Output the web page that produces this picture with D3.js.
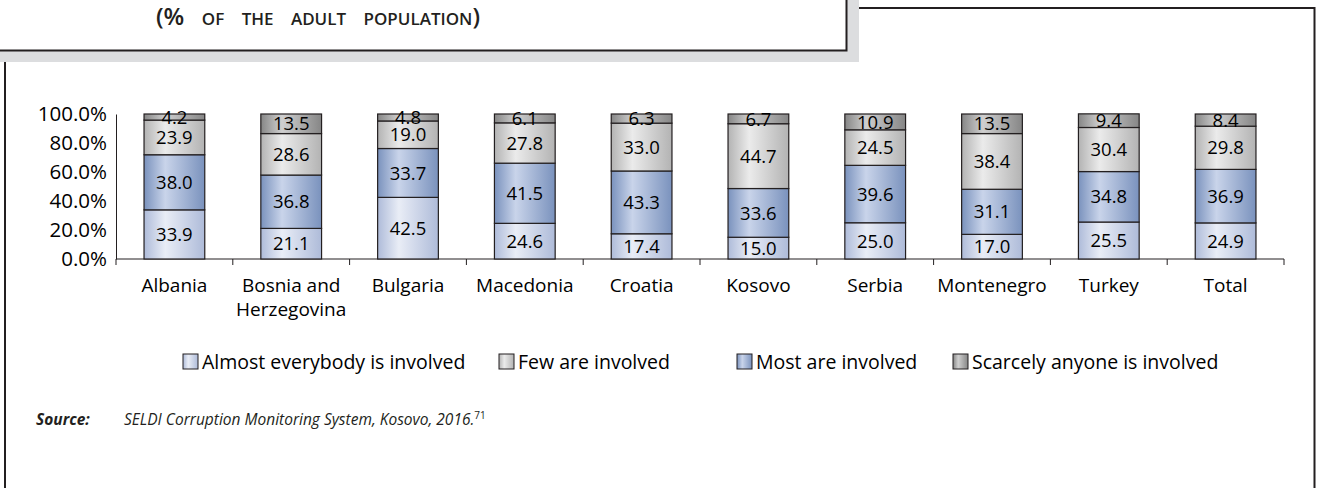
<!DOCTYPE html>
<html lang="en">
<head>
<meta charset="UTF-8">
<title>Corruption involvement</title>
<style>
  body { margin: 0; background: #fff; }
  svg { display: block; font-family: "Open Sans", sans-serif; }
</style>
</head>
<body>
<svg width="1317" height="488"></svg>
<script src="https://cdn.jsdelivr.net/npm/d3@7.8.5/dist/d3.min.js"></script>
<script>
const categories = ['Albania', 'Bosnia and Herzegovina', 'Bulgaria', 'Macedonia', 'Croatia',
  'Kosovo', 'Serbia', 'Montenegro', 'Turkey', 'Total']
const almostEverybody = [33.9, 21.1, 42.5, 24.6, 17.4, 15.0, 25.0, 17.0, 25.5, 24.9]
const most = [38.0, 36.8, 33.7, 41.5, 43.3, 33.6, 39.6, 31.1, 34.8, 36.9]
const few = [23.9, 28.6, 19.0, 27.8, 33.0, 44.7, 24.5, 38.4, 30.4, 29.8]
const scarcely = [4.2, 13.5, 4.8, 6.1, 6.3, 6.7, 10.9, 13.5, 9.4, 8.4]
const yTicks = [0, 20, 40, 60, 80, 100]

// stacking order, bottom to top
const series = [
  { key: 'almost', name: 'Almost everybody is involved', values: almostEverybody, edge: '#aebbd9', mid: '#e9edf6' },
  { key: 'most', name: 'Most are involved', values: most, edge: '#7a92bd', mid: '#c9d4ea' },
  { key: 'few', name: 'Few are involved', values: few, edge: '#b3b3b3', mid: '#ebebeb' },
  { key: 'scarce', name: 'Scarcely anyone is involved', values: scarcely, edge: '#868686', mid: '#cfcfcf' }
]
const legendOrder = ['almost', 'few', 'most', 'scarce']

const svg = d3.select('svg')
const ink = '#231f20'

// gradients
const defs = svg.append('defs')
series.forEach(s => {
  const g = defs.append('linearGradient').attr('id', 'g-' + s.key)
    .attr('x1', 0).attr('x2', 1).attr('y1', 0).attr('y2', 0)
  g.append('stop').attr('offset', '0%').attr('stop-color', s.edge)
  g.append('stop').attr('offset', '35%').attr('stop-color', s.mid)
  g.append('stop').attr('offset', '100%').attr('stop-color', s.edge)
})

// frames
svg.append('rect').attr('x', -10).attr('y', 51).attr('width', 869).attr('height', 11).attr('fill', '#dcdddf')
svg.append('rect').attr('x', 847).attr('y', -10).attr('width', 12).attr('height', 72).attr('fill', '#dcdddf')
svg.append('path').attr('d', 'M-10,50.5 H846.5 V-10').attr('fill', 'none').attr('stroke', ink).attr('stroke-width', 2)
svg.append('path').attr('d', 'M859,8 H1314.5 V500').attr('fill', 'none').attr('stroke', ink).attr('stroke-width', 2)
svg.append('path').attr('d', 'M5,62 V500').attr('fill', 'none').attr('stroke', ink).attr('stroke-width', 2)

const title = svg.append('text').attr('x', 318).attr('y', 25).attr('text-anchor', 'middle')
  .attr('fill', ink).style('font-weight', 600).style('word-spacing', '13px')
title.append('tspan').attr('font-size', 24).text('(%')
title.append('tspan').attr('font-size', 17).text(' OF THE ADULT POPULATION')
title.append('tspan').attr('font-size', 24).text(')')

// scales
const x = d3.scaleBand().domain(categories).range([116, 1284]).paddingInner(0.48).paddingOuter(0.24)
const y = d3.scaleLinear().domain([0, 100]).range([259, 114])

const stacked = d3.stack().keys(series.map(s => s.key))(
  categories.map((c, i) => {
    const row = { cat: c }
    series.forEach(s => row[s.key] = s.values[i])
    return row
  })
)

// axes
const yAxis = svg.append('g').attr('transform', 'translate(116,0)')
  .call(d3.axisLeft(y).tickValues(yTicks).tickSize(0).tickPadding(9).tickFormat(d => d.toFixed(1) + '%'))
yAxis.select('.domain').attr('stroke', ink)
yAxis.selectAll('text').attr('font-size', 20.5).attr('fill', '#000').style('font-family', '"Open Sans", sans-serif')

const band = x.step()
const xAxis = svg.append('g').attr('transform', 'translate(0,259)')
xAxis.append('line').attr('x1', 116).attr('x2', 1284).attr('stroke', ink)
xAxis.selectAll('.tk').data(d3.range(categories.length + 1)).join('line')
  .attr('x1', i => 116 + i * band).attr('x2', i => 116 + i * band)
  .attr('y1', 0).attr('y2', 6).attr('stroke', ink)

const catLabels = svg.append('g').selectAll('text').data(categories).join('text')
  .attr('x', d => x(d) + x.bandwidth() / 2).attr('y', 292)
  .attr('text-anchor', 'middle').attr('font-size', 19).attr('fill', '#000')
catLabels.each(function (d) {
  const t = d3.select(this)
  if (d === 'Bosnia and Herzegovina') {
    t.append('tspan').attr('x', x(d) + x.bandwidth() / 2).text('Bosnia and')
    t.append('tspan').attr('x', x(d) + x.bandwidth() / 2).attr('dy', 24).text('Herzegovina')
  } else t.text(d)
})

// bars
stacked.forEach(layer => {
  const g = svg.append('g')
  g.selectAll('rect').data(layer).join('rect')
    .attr('x', d => x(d.data.cat)).attr('width', x.bandwidth())
    .attr('y', d => y(d[1])).attr('height', d => y(d[0]) - y(d[1]))
    .attr('fill', `url(#g-${layer.key})`).attr('stroke', ink).attr('stroke-width', 1.2)
})
stacked.forEach(layer => {
  svg.append('g').selectAll('text').data(layer).join('text')
    .attr('x', d => x(d.data.cat) + x.bandwidth() / 2)
    .attr('y', d => (y(d[0]) + y(d[1])) / 2)
    .attr('dy', '0.36em').attr('text-anchor', 'middle').attr('font-size', 18.5).attr('fill', '#000')
    .text(d => (d[1] - d[0]).toFixed(1))
})

// legend
const legendX = { almost: 183, few: 499, most: 737, scarce: 953 }
legendOrder.forEach(k => {
  const s = series.find(v => v.key === k)
  const lg = svg.append('g').attr('transform', `translate(${legendX[k]},354)`)
  lg.append('rect').attr('width', 15).attr('height', 15)
    .attr('fill', `url(#g-${k})`).attr('stroke', ink).attr('stroke-width', 1)
  lg.append('text').attr('x', 19).attr('y', 8).attr('dy', '0.36em')
    .attr('font-size', 19.5).attr('fill', '#000').text(s.name)
})

// source
const src = svg.append('text').attr('x', 36).attr('y', 425).attr('font-size', 15.5).attr('fill', ink)
  .style('font-style', 'italic')
src.append('tspan').style('font-weight', 700).text('Source:')
src.append('tspan').attr('x', 124).text('SELDI Corruption Monitoring System, Kosovo, 2016.')
src.append('tspan').attr('font-size', 10).attr('dy', -6).style('font-style', 'normal').text('71')
</script>
</body>
</html>
